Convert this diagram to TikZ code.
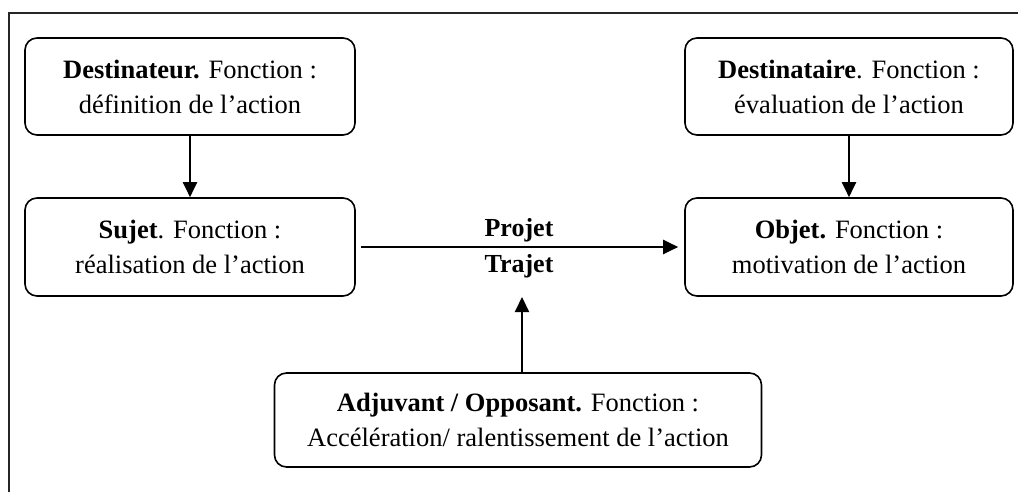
\documentclass[tikz,border=0pt]{standalone}
\usepackage{fontspec}
\setmainfont{Liberation Serif}
\usetikzlibrary{arrows.meta}
\begin{document}
\begin{tikzpicture}[x=1pt,y=-1pt,
  actant/.style={draw, line width=1.6pt, rounded corners=12pt, align=center,
    font=\fontsize{26.5}{35}\selectfont, inner sep=0pt},
  lbl/.style={font=\fontsize{26}{28}\selectfont\bfseries, inner sep=0pt},
  conn/.style={line width=2pt, -{Triangle[length=15pt,width=14pt]}}]
\useasboundingbox (0,0) rectangle (1018,492);
\draw[line width=2pt, black!85] (9,492) -- (9,13) -- (1018,13);
\node[actant, minimum width=330pt, minimum height=97pt] (dest) at (190,86.5)
  {\textbf{Destinateur.} Fonction :\\définition de l’action};
\node[actant, minimum width=328pt, minimum height=97pt] (desta) at (849,86.5)
  {\textbf{Destinataire}. Fonction :\\évaluation de l’action};
\node[actant, minimum width=330pt, minimum height=98pt] (suj) at (190,247)
  {\textbf{Sujet}. Fonction :\\réalisation de l’action};
\node[actant, minimum width=328pt, minimum height=98pt] (obj) at (849,247)
  {\textbf{Objet.} Fonction :\\motivation de l’action};
\node[actant, minimum width=487pt, minimum height=94pt] (adj) at (518,420)
  {\textbf{Adjuvant / Opposant.} Fonction :\\Accélération/ ralentissement de l’action};
\node[lbl] (proj) at (519,230) {Projet};
\node[lbl] (traj) at (519,266) {Trajet};
\coordinate (tip) at (522,297);
\draw[conn] (dest.south) -- (suj.north);
\draw[conn] (desta.south) -- (obj.north);
\draw[conn] ([xshift=5pt]suj.east) -- ([xshift=-6pt]obj.west);
\draw[conn] (adj.north -| tip) -- (tip);
\end{tikzpicture}
\end{document}
